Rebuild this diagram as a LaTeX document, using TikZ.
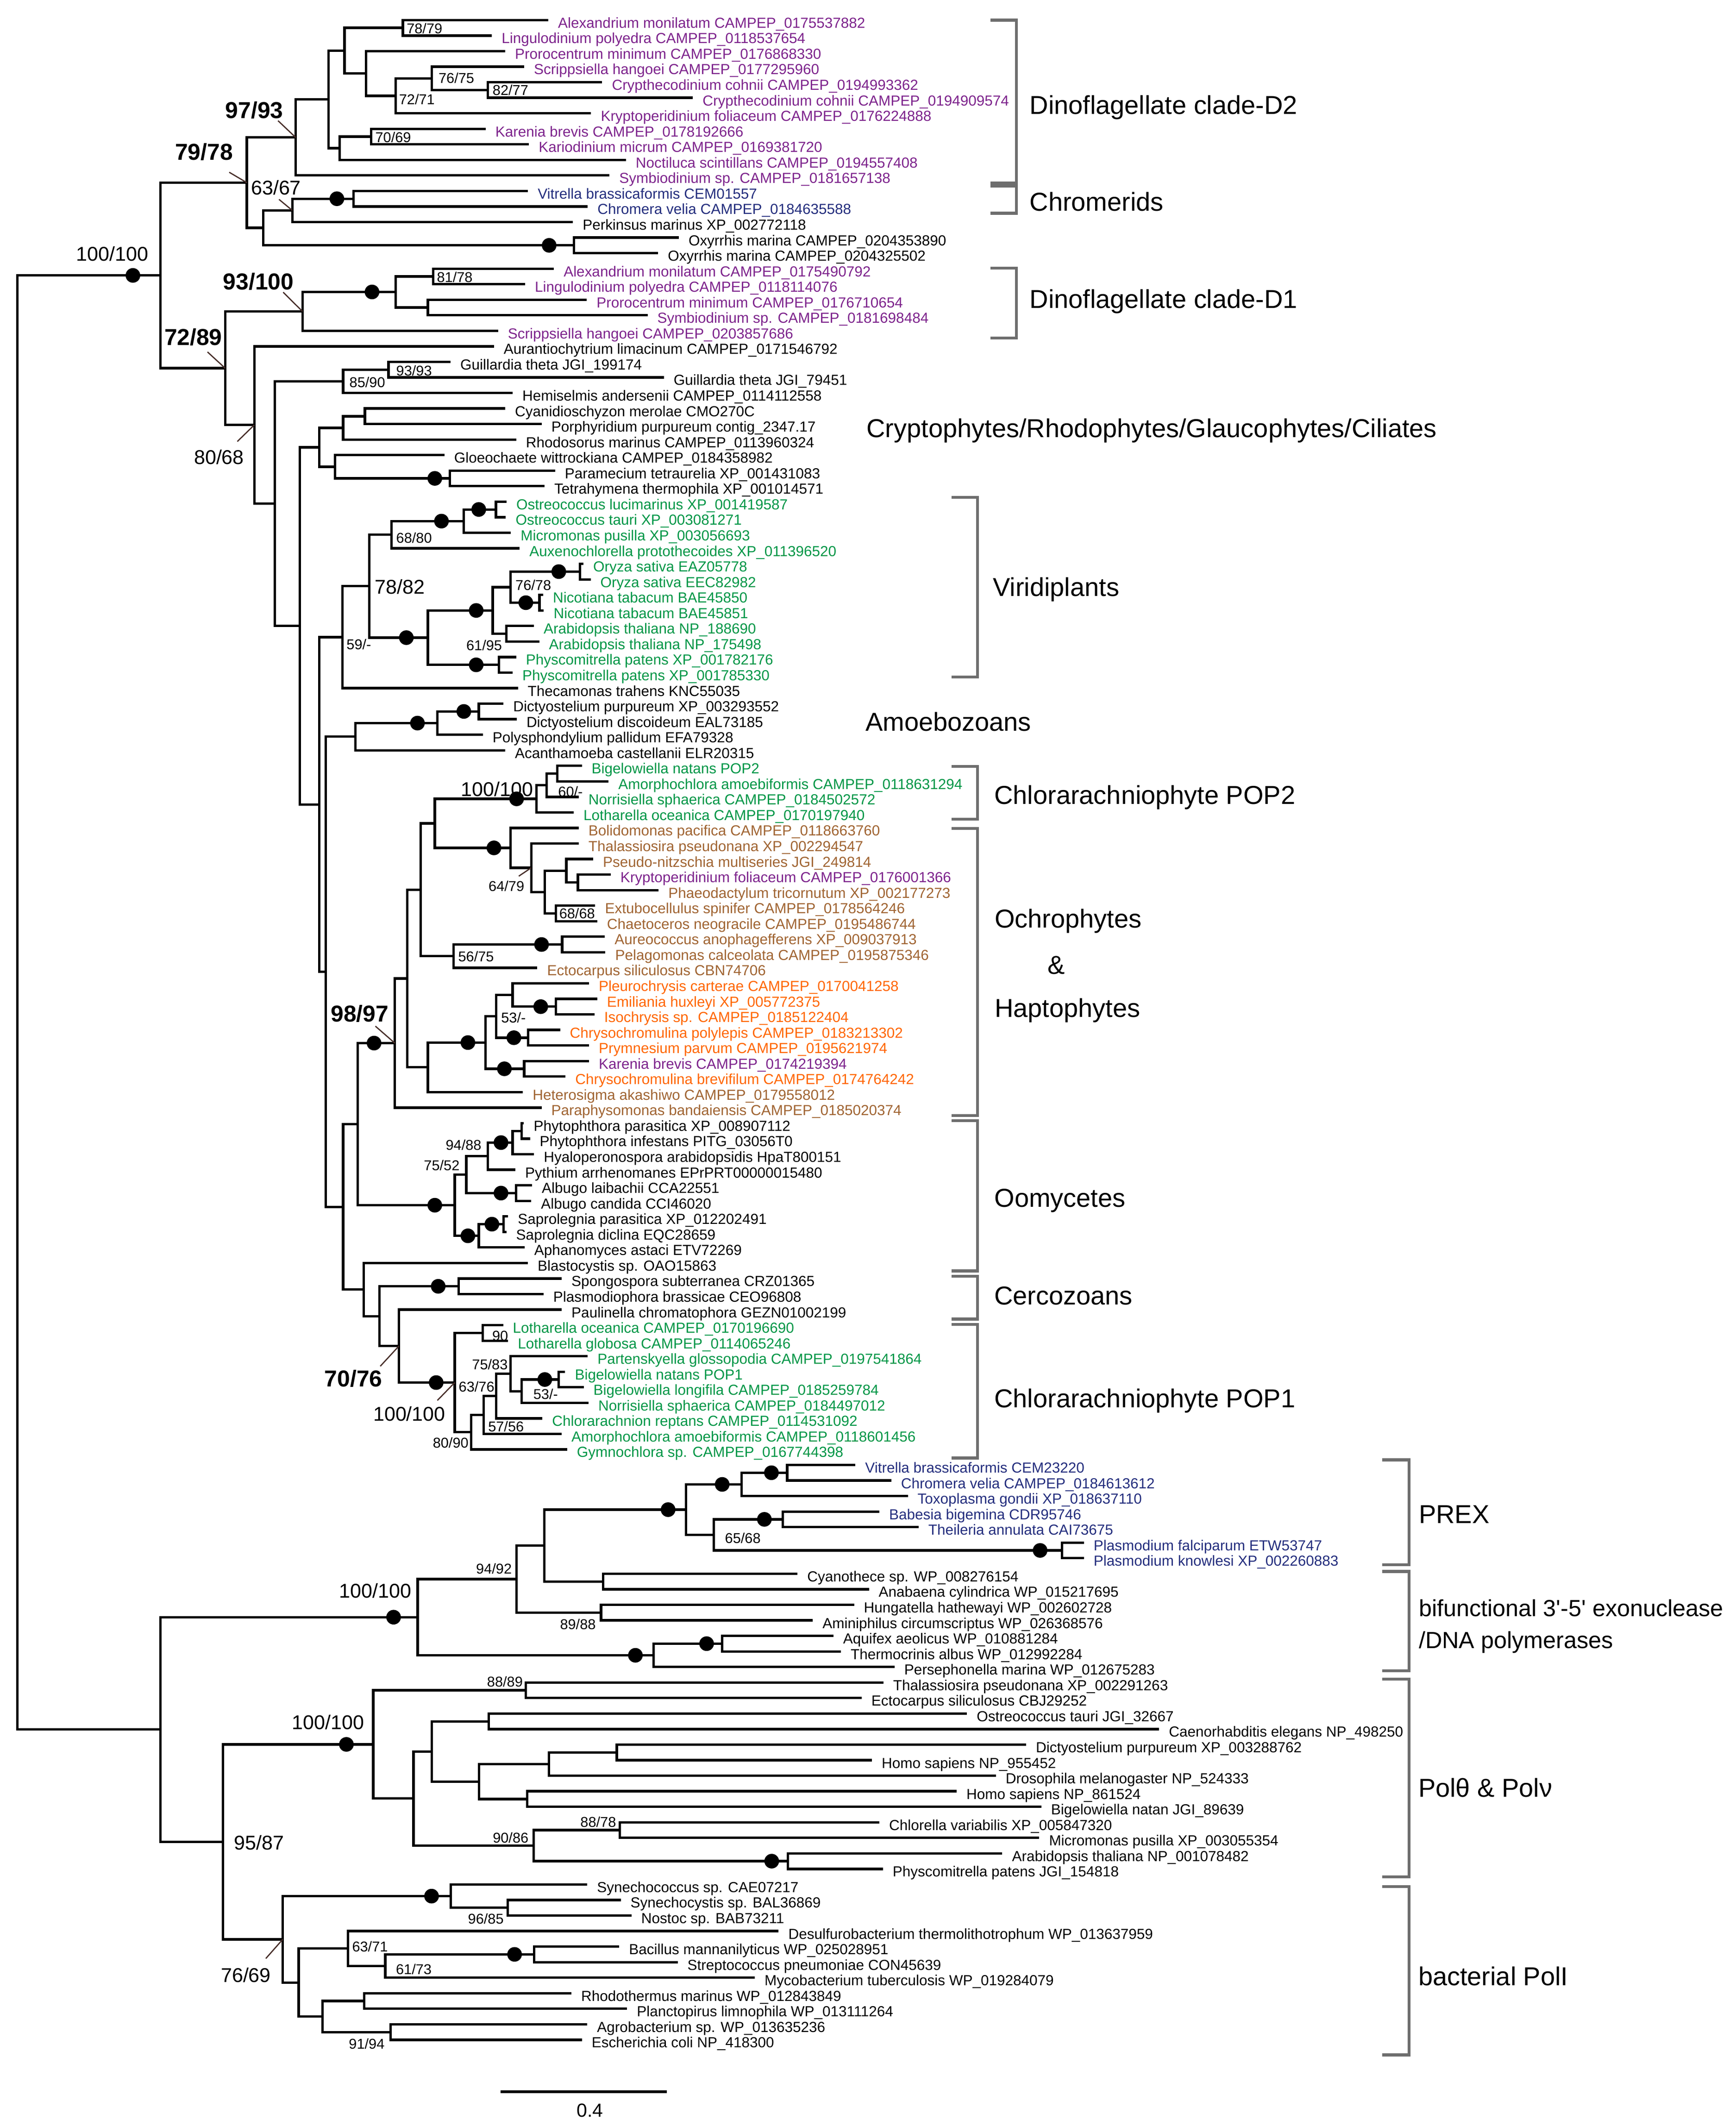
\documentclass[tikz,border=0pt]{standalone}
\usepackage{fontspec}
\setmainfont{Liberation Sans}
\newfontfamily\plainfont{Liberation Sans}[Ligatures=TeXOff]
\usetikzlibrary{calc}
\definecolor{cpur}{RGB}{125,35,140}
\definecolor{cnav}{RGB}{35,45,125}
\definecolor{cgrn}{RGB}{0,150,70}
\definecolor{cbrn}{RGB}{160,100,50}
\definecolor{corg}{RGB}{255,102,0}
\definecolor{cgry}{RGB}{110,110,110}
\definecolor{cptr}{RGB}{70,45,40}
\tikzset{
 br/.style={line width=1.8pt},
 bk/.style={line width=2.2pt, draw=cgry},
 ptr/.style={line width=0.9pt, draw=cptr},
 leaf/.style={anchor=base west, inner sep=0pt, font=\fontsize{10.75}{12}\selectfont},
 sl/.style={inner sep=0pt, font=\fontsize{10.5}{12}\selectfont},
 ml/.style={inner sep=0pt, font=\fontsize{14.7}{16}\selectfont},
 bl/.style={inner sep=0pt, font=\fontsize{17}{19}\selectfont\bfseries},
 cl/.style={anchor=base west, inner sep=0pt, font=\fontsize{19.1}{22}\selectfont},
 clb/.style={anchor=base west, inner sep=0pt, font=\plainfont\fontsize{17.2}{20}\selectfont},
}
\newcommand\lf[4]{\coordinate (L#1) at (#2,{14.8+(#1-1)*11.455});
 \node[leaf,text=#3] (T#1) at ([xshift=7pt,yshift=-5.8pt]L#1) {#4};}
\newcommand\nd[4]{\coordinate (#1mid) at ($(#3)!0.5!(#4)$);
 \coordinate (#1xx) at (#2,0);
 \coordinate (#1) at (#1xx |- #1mid);
 \draw[br] (#3) -| (#1) |- (#4);}
\newcommand\bd[2]{\coordinate (#1dd) at (#2,0); \fill (#1dd |- #1) circle (5.4pt);}
\newcommand\brk[4]{\draw[bk] (#1,#3) -- (#2,#3) -- (#2,#4) -- (#1,#4);}
\begin{document}
\begin{tikzpicture}[x=1pt,y=-1pt]
\useasboundingbox (0,0) rectangle (1280,1567.5);
\fill[white] (0,0) rectangle (1280,1567.5);
% leaves
\lf{1}{404.3}{cpur}{Alexandrium monilatum CAMPEP\_0175537882}
\lf{2}{362.7}{cpur}{Lingulodinium polyedra CAMPEP\_0118537654}
\lf{3}{372.5}{cpur}{Prorocentrum minimum CAMPEP\_0176868330}
\lf{4}{386.5}{cpur}{Scrippsiella hangoei CAMPEP\_0177295960}
\lf{5}{444}{cpur}{Crypthecodinium cohnii CAMPEP\_0194993362}
\lf{6}{510.9}{cpur}{Crypthecodinium cohnii CAMPEP\_0194909574}
\lf{7}{435.8}{cpur}{Kryptoperidinium foliaceum CAMPEP\_0176224888}
\lf{8}{358.1}{cpur}{Karenia brevis CAMPEP\_0178192666}
\lf{9}{390}{cpur}{Kariodinium micrum CAMPEP\_0169381720}
\lf{10}{461.5}{cpur}{Noctiluca scintillans CAMPEP\_0194557408}
\lf{11}{449.4}{cpur}{Symbiodinium sp. CAMPEP\_0181657138}
\lf{12}{389.3}{cnav}{Vitrella brassicaformis CEM01557}
\lf{13}{433.4}{cnav}{Chromera velia CAMPEP\_0184635588}
\lf{14}{422.4}{black}{Perkinsus marinus XP\_002772118}
\lf{15}{500.5}{black}{Oxyrrhis marina CAMPEP\_0204353890}
\lf{16}{485.3}{black}{Oxyrrhis marina CAMPEP\_0204325502}
\lf{17}{408.4}{cpur}{Alexandrium monilatum CAMPEP\_0175490792}
\lf{18}{387.2}{cpur}{Lingulodinium polyedra CAMPEP\_0118114076}
\lf{19}{432.7}{cpur}{Prorocentrum minimum CAMPEP\_0176710654}
\lf{20}{477.5}{cpur}{Symbiodinium sp. CAMPEP\_0181698484}
\lf{21}{367.3}{cpur}{Scrippsiella hangoei CAMPEP\_0203857686}
\lf{22}{364.2}{black}{Aurantiochytrium limacinum CAMPEP\_0171546792}
\lf{23}{332.2}{black}{Guillardia theta JGI\_199174}
\lf{24}{489.5}{black}{Guillardia theta JGI\_79451}
\lf{25}{378}{black}{Hemiselmis andersenii CAMPEP\_0114112558}
\lf{26}{372.5}{black}{Cyanidioschyzon merolae CMO270C}
\lf{27}{399.4}{black}{Porphyridium purpureum contig\_2347.17}
\lf{28}{380.6}{black}{Rhodosorus marinus CAMPEP\_0113960324}
\lf{29}{327.7}{black}{Gloeochaete wittrockiana CAMPEP\_0184358982}
\lf{30}{409.3}{black}{Paramecium tetraurelia XP\_001431083}
\lf{31}{401.5}{black}{Tetrahymena thermophila XP\_001014571}
\lf{32}{373.5}{cgrn}{Ostreococcus lucimarinus XP\_001419587}
\lf{33}{373}{cgrn}{Ostreococcus tauri XP\_003081271}
\lf{34}{376.7}{cgrn}{Micromonas pusilla XP\_003056693}
\lf{35}{383.2}{cgrn}{Auxenochlorella protothecoides XP\_011396520}
\lf{36}{430.2}{cgrn}{Oryza sativa EAZ05778}
\lf{37}{435.5}{cgrn}{Oryza sativa EEC82982}
\lf{38}{400.5}{cgrn}{Nicotiana tabacum BAE45850}
\lf{39}{401}{cgrn}{Nicotiana tabacum BAE45851}
\lf{40}{393.7}{cgrn}{Arabidopsis thaliana NP\_188690}
\lf{41}{397.6}{cgrn}{Arabidopsis thaliana NP\_175498}
\lf{42}{380.6}{cgrn}{Physcomitrella patens XP\_001782176}
\lf{43}{378}{cgrn}{Physcomitrella patens XP\_001785330}
\lf{44}{381.9}{black}{Thecamonas trahens KNC55035}
\lf{45}{371.2}{black}{Dictyostelium purpureum XP\_003293552}
\lf{46}{381}{black}{Dictyostelium discoideum EAL73185}
\lf{47}{356}{black}{Polysphondylium pallidum EFA79328}
\lf{48}{372.5}{black}{Acanthamoeba castellanii ELR20315}
\lf{49}{429}{cgrn}{Bigelowiella natans POP2}
\lf{50}{448.7}{cgrn}{Amorphochlora amoebiformis CAMPEP\_0118631294}
\lf{51}{426.7}{cgrn}{Norrisiella sphaerica CAMPEP\_0184502572}
\lf{52}{423}{cgrn}{Lotharella oceanica CAMPEP\_0170197940}
\lf{53}{426.7}{cbrn}{Bolidomonas pacifica CAMPEP\_0118663760}
\lf{54}{426.7}{cbrn}{Thalassiosira pseudonana XP\_002294547}
\lf{55}{437.4}{cbrn}{Pseudo-nitzschia multiseries JGI\_249814}
\lf{56}{450.3}{cpur}{Kryptoperidinium foliaceum CAMPEP\_0176001366}
\lf{57}{485.6}{cbrn}{Phaeodactylum tricornutum XP\_002177273}
\lf{58}{438.9}{cbrn}{Extubocellulus spinifer CAMPEP\_0178564246}
\lf{59}{440.4}{cbrn}{Chaetoceros neogracile CAMPEP\_0195486744}
\lf{60}{446}{cbrn}{Aureococcus anophagefferens XP\_009037913}
\lf{61}{446.4}{cbrn}{Pelagomonas calceolata CAMPEP\_0195875346}
\lf{62}{396.2}{cbrn}{Ectocarpus siliculosus CBN74706}
\lf{63}{434.3}{corg}{Pleurochrysis carterae CAMPEP\_0170041258}
\lf{64}{440.4}{corg}{Emiliania huxleyi XP\_005772375}
\lf{65}{438.3}{corg}{Isochrysis sp. CAMPEP\_0185122404}
\lf{66}{413}{corg}{Chrysochromulina polylepis CAMPEP\_0183213302}
\lf{67}{434.3}{corg}{Prymnesium parvum CAMPEP\_0195621974}
\lf{68}{434.3}{cpur}{Karenia brevis CAMPEP\_0174219394}
\lf{69}{417}{corg}{Chrysochromulina brevifilum CAMPEP\_0174764242}
\lf{70}{385.6}{cbrn}{Heterosigma akashiwo CAMPEP\_0179558012}
\lf{71}{399.3}{cbrn}{Paraphysomonas bandaiensis CAMPEP\_0185020374}
\lf{72}{386.3}{black}{Phytophthora parasitica XP\_008907112}
\lf{73}{390.8}{black}{Phytophthora infestans PITG\_03056T0}
\lf{74}{393.8}{black}{Hyaloperonospora arabidopsidis HpaT800151}
\lf{75}{380}{black}{Pythium arrhenomanes EPrPRT00000015480}
\lf{76}{392.3}{black}{Albugo laibachii CCA22551}
\lf{77}{391.7}{black}{Albugo candida CCI46020}
\lf{78}{374.6}{black}{Saprolegnia parasitica XP\_012202491}
\lf{79}{373.4}{black}{Saprolegnia diclina EQC28659}
\lf{80}{386.8}{black}{Aphanomyces astaci ETV72269}
\lf{81}{389.2}{black}{Blastocystis sp. OAO15863}
\lf{82}{414.2}{black}{Spongospora subterranea CRZ01365}
\lf{83}{400.8}{black}{Plasmodiophora brassicae CEO96808}
\lf{84}{414.2}{black}{Paulinella chromatophora GEZN01002199}
\lf{85}{371}{cgrn}{Lotharella oceanica CAMPEP\_0170196690}
\lf{86}{374.6}{cgrn}{Lotharella globosa CAMPEP\_0114065246}
\lf{87}{433.4}{cgrn}{Partenskyella glossopodia CAMPEP\_0197541864}
\lf{88}{416.7}{cgrn}{Bigelowiella natans POP1}
\lf{89}{430.4}{cgrn}{Bigelowiella longifila CAMPEP\_0185259784}
\lf{90}{434}{cgrn}{Norrisiella sphaerica CAMPEP\_0184497012}
\lf{91}{399.9}{cgrn}{Chlorarachnion reptans CAMPEP\_0114531092}
\lf{92}{414.2}{cgrn}{Amorphochlora amoebiformis CAMPEP\_0118601456}
\lf{93}{418.2}{cgrn}{Gymnochlora sp. CAMPEP\_0167744398}
\lf{94}{630.7}{cnav}{Vitrella brassicaformis CEM23220}
\lf{95}{657.2}{cnav}{Chromera velia CAMPEP\_0184613612}
\lf{96}{669.4}{cnav}{Toxoplasma gondii XP\_018637110}
\lf{97}{648.4}{cnav}{Babesia bigemina CDR95746}
\lf{98}{677.3}{cnav}{Theileria annulata CAI73675}
\lf{99}{799.2}{cnav}{Plasmodium falciparum ETW53747}
\lf{100}{799.2}{cnav}{Plasmodium knowlesi XP\_002260883}
\lf{101}{588}{black}{Cyanothece sp. WP\_008276154}
\lf{102}{640.7}{black}{Anabaena cylindrica WP\_015217695}
\lf{103}{629.8}{black}{Hungatella hathewayi WP\_002602728}
\lf{104}{599.3}{black}{Aminiphilus circumscriptus WP\_026368576}
\lf{105}{614.5}{black}{Aquifex aeolicus WP\_010881284}
\lf{106}{620}{black}{Thermocrinis albus WP\_012992284}
\lf{107}{659.6}{black}{Persephonella marina WP\_012675283}
\lf{108}{651.4}{black}{Thalassiosira pseudonana XP\_002291263}
\lf{109}{635.3}{black}{Ectocarpus siliculosus CBJ29252}
\lf{110}{713}{black}{Ostreococcus tauri JGI\_32667}
\lf{111}{854.7}{black}{Caenorhabditis elegans NP\_498250}
\lf{112}{756.6}{black}{Dictyostelium purpureum XP\_003288762}
\lf{113}{642.9}{black}{Homo sapiens NP\_955452}
\lf{114}{734.3}{black}{Drosophila melanogaster NP\_524333}
\lf{115}{705.4}{black}{Homo sapiens NP\_861524}
\lf{116}{767.8}{black}{Bigelowiella natan JGI\_89639}
\lf{117}{648.4}{black}{Chlorella variabilis XP\_005847320}
\lf{118}{766.3}{black}{Micromonas pusilla XP\_003055354}
\lf{119}{739}{black}{Arabidopsis thaliana NP\_001078482}
\lf{120}{651}{black}{Physcomitrella patens JGI\_154818}
\lf{121}{433}{black}{Synechococcus sp. CAE07217}
\lf{122}{457.7}{black}{Synechocystis sp. BAL36869}
\lf{123}{465.6}{black}{Nostoc sp. BAB73211}
\lf{124}{574.1}{black}{Desulfurobacterium thermolithotrophum WP\_013637959}
\lf{125}{456.6}{black}{Bacillus mannanilyticus WP\_025028951}
\lf{126}{499.7}{black}{Streptococcus pneumoniae CON45639}
\lf{127}{556.5}{black}{Mycobacterium tuberculosis WP\_019284079}
\lf{128}{421.3}{black}{Rhodothermus marinus WP\_012843849}
\lf{129}{462.4}{black}{Planctopirus limnophila WP\_013111264}
\lf{130}{433}{black}{Agrobacterium sp. WP\_013635236}
\lf{131}{429.1}{black}{Escherichia coli NP\_418300}
% internal nodes, upper part
\nd{nF}{297}{L1}{L2}
\nd{nJ}{359.7}{L5}{L6}
\nd{nI}{318.5}{L4}{nJ}
\nd{nH}{291.7}{nI}{L7}
\nd{nG}{270}{L3}{nH}
\nd{nE}{254}{nF}{nG}
\nd{nL}{273.7}{L8}{L9}
\nd{nK}{250.5}{nL}{L10}
\nd{nD}{242.2}{nE}{nK}
\nd{nC}{218}{nD}{L11}
\nd{nO}{260.6}{L12}{L13}
\nd{nN}{215.5}{nO}{L14}
\nd{nP}{423.2}{L15}{L16}
\nd{nM}{194.2}{nN}{nP}
\nd{nB}{182}{nC}{nM}
\nd{nT}{319.4}{L17}{L18}
\nd{nU}{315.5}{L19}{L20}
\nd{nS}{291.7}{nT}{nU}
\nd{nR}{223}{nS}{L21}
\nd{nY}{286.5}{L23}{L24}
\nd{nX}{253}{nY}{L25}
\nd{nAC}{269}{L26}{L27}
\nd{nAB}{253}{nAC}{L28}
\nd{nAE}{331.6}{L30}{L31}
\nd{nAD}{246.9}{L29}{nAE}
\nd{nAA}{235.3}{nAB}{nAD}
\nd{nAK}{365.7}{L32}{L33}
\nd{nAJ}{342}{nAK}{L34}
\nd{nAI}{288.6}{nAJ}{L35}
\nd{nAO}{427.6}{L36}{L37}
\nd{nAP}{397.8}{L38}{L39}
\nd{nAN}{376.4}{nAO}{nAP}
\nd{nAQ}{373.4}{L40}{L41}
\nd{nAM}{363.3}{nAN}{nAQ}
\nd{nAR}{367.8}{L42}{L43}
\nd{nAL}{315.5}{nAM}{nAR}
\nd{nAH}{272.2}{nAI}{nAL}
\nd{nAG}{252.4}{nAH}{L44}
\nd{nAV}{353}{L45}{L46}
\nd{nAU}{322.5}{nAV}{L47}
\nd{nAT}{262.1}{nAU}{L48}
\nd{nBE}{410.9}{L49}{L50}
\nd{nBD}{403}{nBE}{L51}
\nd{nBC}{395.6}{nBD}{L52}
\nd{nBJ}{426.1}{L56}{L57}
\nd{nBI}{417.6}{L55}{nBJ}
\nd{nBK}{410}{L58}{L59}
\nd{nBH}{401.7}{nBI}{nBK}
\nd{nBG}{391.7}{L54}{nBH}
\nd{nBF}{376.4}{L53}{nBG}
\nd{nBB}{320.6}{nBC}{nBF}
\nd{nBM}{414.5}{L60}{L61}
\nd{nBL}{334.4}{nBM}{L62}
\nd{nBA}{310.3}{nBB}{nBL}
\nd{nBS}{410}{L64}{L65}
\nd{nBR}{378}{L63}{nBS}
\nd{nBT}{389.5}{L66}{L67}
\nd{nBQ}{365.8}{nBR}{nBT}
\nd{nBU}{386.5}{L68}{L69}
\nd{nBP}{358.1}{nBQ}{nBU}
\nd{nBO}{315.5}{nBP}{L70}
\nd{nBN}{300.2}{nBA}{nBO}
\nd{nBV}{291.1}{nBN}{L71}
\nd{nCB}{384.7}{L72}{L73}
\nd{nCA}{378}{nCB}{L74}
\nd{nBZ}{359.7}{nCA}{L75}
\nd{nCC}{380.4}{L76}{L77}
\nd{nBY}{343.8}{nBZ}{nCC}
\nd{nCE}{371.2}{L78}{L79}
\nd{nCD}{353}{nCE}{L80}
\nd{nBX}{335.3}{nBY}{nCD}
\nd{nBW}{263.7}{nBV}{nBX}
\nd{nCH}{338.3}{L82}{L83}
\nd{nCK}{356}{L85}{L86}
\nd{nCQ}{412}{L88}{L89}
\nd{nCP}{384.7}{nCQ}{L90}
\nd{nCO}{376.4}{L87}{nCP}
\nd{nCN}{365.8}{nCO}{L91}
\nd{nCM}{356.6}{nCN}{L92}
\nd{nCL}{347.5}{nCM}{L93}
\nd{nCJ}{335.3}{nCK}{nCL}
\nd{nCI}{294.1}{L84}{nCJ}
\nd{nCG}{279.8}{nCH}{nCI}
\nd{nCF}{268.2}{L81}{nCG}
\nd{nAW}{253}{nBW}{nCF}
\nd{nAS}{240.2}{nAT}{nAW}
\nd{nAF}{235.3}{nAG}{nAS}
\nd{nZ}{221}{nAA}{nAF}
\nd{nW}{202.7}{nX}{nZ}
\nd{nV}{187.5}{L22}{nW}
\nd{nQ}{166}{nR}{nV}
\nd{nA}{118.3}{nB}{nQ}
% lower part
\nd{nRh}{580.4}{L94}{L95}
\nd{nRg}{546.9}{nRh}{L96}
\nd{nRj}{577.3}{L97}{L98}
\nd{nRk}{783.1}{L99}{L100}
\nd{nRi}{526.4}{nRj}{nRk}
\nd{nRf}{505.7}{nRg}{nRi}
\nd{nRl}{444.8}{L101}{L102}
\nd{nRe}{401.4}{nRf}{nRl}
\nd{nRm}{443.2}{L103}{L104}
\nd{nRd}{380.8}{nRe}{nRm}
\nd{nRo}{532.5}{L105}{L106}
\nd{nRn}{482}{nRo}{L107}
\nd{nRc}{308}{nRd}{nRn}
\nd{nRr}{387.8}{L108}{L109}
\nd{nRu}{360.4}{L110}{L111}
\nd{nRx}{454.8}{L112}{L113}
\nd{nRw}{404.8}{nRx}{L114}
\nd{nRy}{388.7}{L115}{L116}
\nd{nRv}{353.3}{nRw}{nRy}
\nd{nRt}{318.5}{nRu}{nRv}
\nd{nSa}{457}{L117}{L118}
\nd{nSb}{581}{L119}{L120}
\nd{nRz}{393.5}{nSa}{nSb}
\nd{nRs}{304.9}{nRt}{nRz}
\nd{nRq}{275.2}{nRr}{nRs}
\nd{nSe}{374.3}{L122}{L123}
\nd{nSd}{332.3}{L121}{nSe}
\nd{nSi}{393.9}{L125}{L126}
\nd{nSh}{284.1}{nSi}{L127}
\nd{nSg}{256.7}{L124}{nSh}
\nd{nSk}{268.5}{L128}{L129}
\nd{nSl}{288}{L130}{L131}
\nd{nSj}{237.9}{nSk}{nSl}
\nd{nSf}{220.2}{nSg}{nSj}
\nd{nSc}{208.5}{nSd}{nSf}
\nd{nRp}{164.4}{nRq}{nSc}
\nd{nRb}{118.3}{nRc}{nRp}
\nd{root}{12.8}{nA}{nRb}
% dots
\bd{nA}{98}
\bd{nO}{248.4}
\bd{nP}{404.9}
\bd{nS}{274.3}
\bd{nAE}{320.6}
\bd{nAK}{353}
\bd{nAJ}{325.5}
\bd{nAO}{412}
\bd{nAP}{387.7}
\bd{nAM}{351.1}
\bd{nAR}{351.1}
\bd{nAL}{299.6}
\bd{nAV}{342}
\bd{nAU}{307.8}
\bd{nBC}{380.9}
\bd{nBF}{364.2}
\bd{nBM}{399.3}
\bd{nBS}{398.7}
\bd{nBT}{378.9}
\bd{nBU}{371.9}
\bd{nBP}{345}
\bd{nBV}{275.8}
\bd{nCA}{369.4}
\bd{nCC}{369.4}
\bd{nCE}{362.7}
\bd{nCD}{345}
\bd{nBX}{320.6}
\bd{nCH}{323.1}
\bd{nCQ}{401.7}
\bd{nCJ}{321.6}
\bd{nRh}{568.8}
\bd{nRg}{532.5}
\bd{nRj}{563.6}
\bd{nRk}{766.9}
\bd{nRf}{492.6}
\bd{nRo}{521}
\bd{nRn}{468.5}
\bd{nRc}{290.2}
\bd{nSb}{569}
\bd{nRq}{255.4}
\bd{nSd}{318.2}
\bd{nSi}{379.4}
% small support labels
\node[sl] (s1) at (313,21) {78/79};
\node[sl] (s2) at (336.5,57.7) {76/75};
\node[sl] (s3) at (376.4,66.4) {82/77};
\node[sl] (s4) at (307.4,73.3) {72/71};
\node[sl] (s5) at (289.9,101.2) {70/69};
\node[sl] (s6) at (335.3,204.4) {81/78};
\node[sl] (s7) at (305.3,273.2) {93/93};
\node[sl] (s8) at (270.8,282) {85/90};
\node[sl] (s9) at (305.3,396.4) {68/80};
\node[sl] (s10) at (264.6,475.1) {59/-};
\node[sl] (s11) at (393.2,431.4) {76/78};
\node[sl] (s12) at (357,475.8) {61/95};
\node[sl] (s13) at (420.6,583.6) {60/-};
\node[sl] (s14) at (373.4,653.3) {64/79};
\node[sl] (s15) at (425.5,673.4) {68/68};
\node[sl] (s16) at (351,705.3) {56/75};
\node[sl] (s17) at (378.6,750.2) {53/-};
\node[sl] (s18) at (341.8,844.2) {94/88};
\node[sl] (s19) at (325.7,859.1) {75/52};
\node[sl] (s20) at (368.8,984.9) {90};
\node[sl] (s21) at (361.2,1006) {75/83};
\node[sl] (s22) at (351.4,1022.5) {63/76};
\node[sl] (s23) at (402.3,1027.9) {53/-};
\node[sl] (s24) at (373.1,1051.8) {57/56};
\node[sl] (s25) at (332.3,1063.8) {80/90};
\node[sl] (s26) at (547.7,1133.9) {65/68};
\node[sl] (s27) at (364.2,1156.7) {94/92};
\node[sl] (s28) at (426.1,1197.7) {89/88};
\node[sl] (s29) at (372.3,1239.9) {88/89};
\node[sl] (s30) at (441.1,1343.2) {88/78};
\node[sl] (s31) at (376.5,1355.1) {90/86};
\node[sl] (s32) at (358.2,1414.8) {96/85};
\node[sl] (s33) at (272.8,1435.2) {63/71};
\node[sl] (s34) at (305.1,1451.9) {61/73};
\node[sl] (s35) at (270.4,1507) {91/94};
% medium labels
\node[ml] (m1) at (82.8,187.2) {100/100};
\node[ml] (m2) at (203.5,138.2) {63/67};
\node[ml] (m3) at (161.5,336.9) {80/68};
\node[ml] (m4) at (294.9,432.7) {78/82};
\node[ml] (m5) at (366.5,581.9) {100/100};
\node[ml] (m6) at (301.8,1042.3) {100/100};
\node[ml] (m7) at (276.7,1172.9) {100/100};
\node[ml] (m8) at (242,1269.9) {100/100};
\node[ml] (m9) at (191.1,1358.6) {95/87};
\node[ml] (m10) at (181.3,1456.1) {76/69};
% bold labels
\node[bl] (b1) at (187.5,81.1) {97/93};
\node[bl] (b2) at (150.4,112.1) {79/78};
\node[bl] (b3) at (190.5,207.6) {93/100};
\node[bl] (b4) at (142.5,248.4) {72/89};
\node[bl] (b5) at (265.2,747.4) {98/97};
\node[bl] (b6) at (260.6,1016.5) {70/76};
% pointers
\coordinate (p1) at (205,89); \draw[ptr] (p1) -- (nC);
\coordinate (p2) at (169,127); \draw[ptr] (p2) -- (nB);
\coordinate (p3) at (205.7,147); \draw[ptr] (p3) -- (nN);
\coordinate (p4) at (208.8,215.5); \draw[ptr] (p4) -- (nR);
\coordinate (p5) at (153,259.5); \draw[ptr] (p5) -- (nQ);
\coordinate (p6) at (175,325.5); \draw[ptr] (p6) -- (nV);
\coordinate (p7) at (276.8,756.6); \draw[ptr] (p7) -- (nBV);
\coordinate (p8) at (382.5,646); \draw[ptr] (p8) -- (nBG);
\coordinate (p9) at (280.4,1007.3); \draw[ptr] (p9) -- (nCI);
\coordinate (p10) at (322.5,1032.5); \draw[ptr] (p10) -- (nCJ);
\coordinate (p11) at (196,1444); \draw[ptr] (p11) -- (nSc);
% brackets
\brk{730.4}{749.4}{14.8}{135}
\brk{730.4}{749.4}{137.2}{157.2}
\brk{730.4}{749.4}{197.7}{249.3}
\brk{701.7}{720.7}{366.7}{499.1}
\brk{701.7}{720.7}{565}{603.9}
\brk{701.7}{720.7}{610.8}{822.4}
\brk{701.7}{720.7}{826.3}{937}
\brk{701.7}{720.7}{941}{972.5}
\brk{701.7}{720.7}{976.5}{1075}
\brk{1019.2}{1039}{1076.4}{1153.7}
\brk{1019.2}{1039}{1158.7}{1231.9}
\brk{1019.2}{1039}{1238}{1383.7}
\brk{1019.2}{1039}{1391}{1515}
% clade labels
\node[cl] (c1) at (759,84.1) {Dinoflagellate clade-D2};
\node[cl] (c2) at (759,155.5) {Chromerids};
\node[cl] (c3) at (759,227.1) {Dinoflagellate clade-D1};
\node[cl] (c4) at (638.8,322.5) {Cryptophytes/Rhodophytes/Glaucophytes/Ciliates};
\node[cl] (c5) at (732,439.5) {Viridiplants};
\node[cl] (c6) at (638,538.8) {Amoebozoans};
\node[cl] (c7) at (733,592.8) {Chlorarachniophyte POP2};
\node[cl] (c8) at (733.3,684.2) {Ochrophytes};
\node[cl,anchor=base] (c9) at (779,718.1) {\&};
\node[cl] (c10) at (733.3,749.8) {Haptophytes};
\node[cl] (c11) at (733,889.8) {Oomycetes};
\node[cl] (c12) at (733,961.8) {Cercozoans};
\node[cl] (c13) at (733,1037.8) {Chlorarachniophyte POP1};
\node[cl] (c14) at (1046,1123.2) {PREX};
\node[clb] (c15) at (1046,1191.8) {bifunctional 3'-5' exonuclease};
\node[clb] (c16) at (1046,1215.4) {/DNA polymerases};
\node[cl] (c17) at (1045.6,1324.9) {Polθ \& Polν};
\node[cl] (c18) at (1045.6,1464) {bacterial PolI};
% scale bar
\coordinate (sb1) at (369.2,1542.3);
\coordinate (sb2) at (491.8,1542.3);
\draw[line width=2pt] (sb1) -- (sb2);
\node[inner sep=0pt, font=\fontsize{14}{16}\selectfont] (sbl) at (435,1555.9) {0.4};
\end{tikzpicture}
\end{document}
